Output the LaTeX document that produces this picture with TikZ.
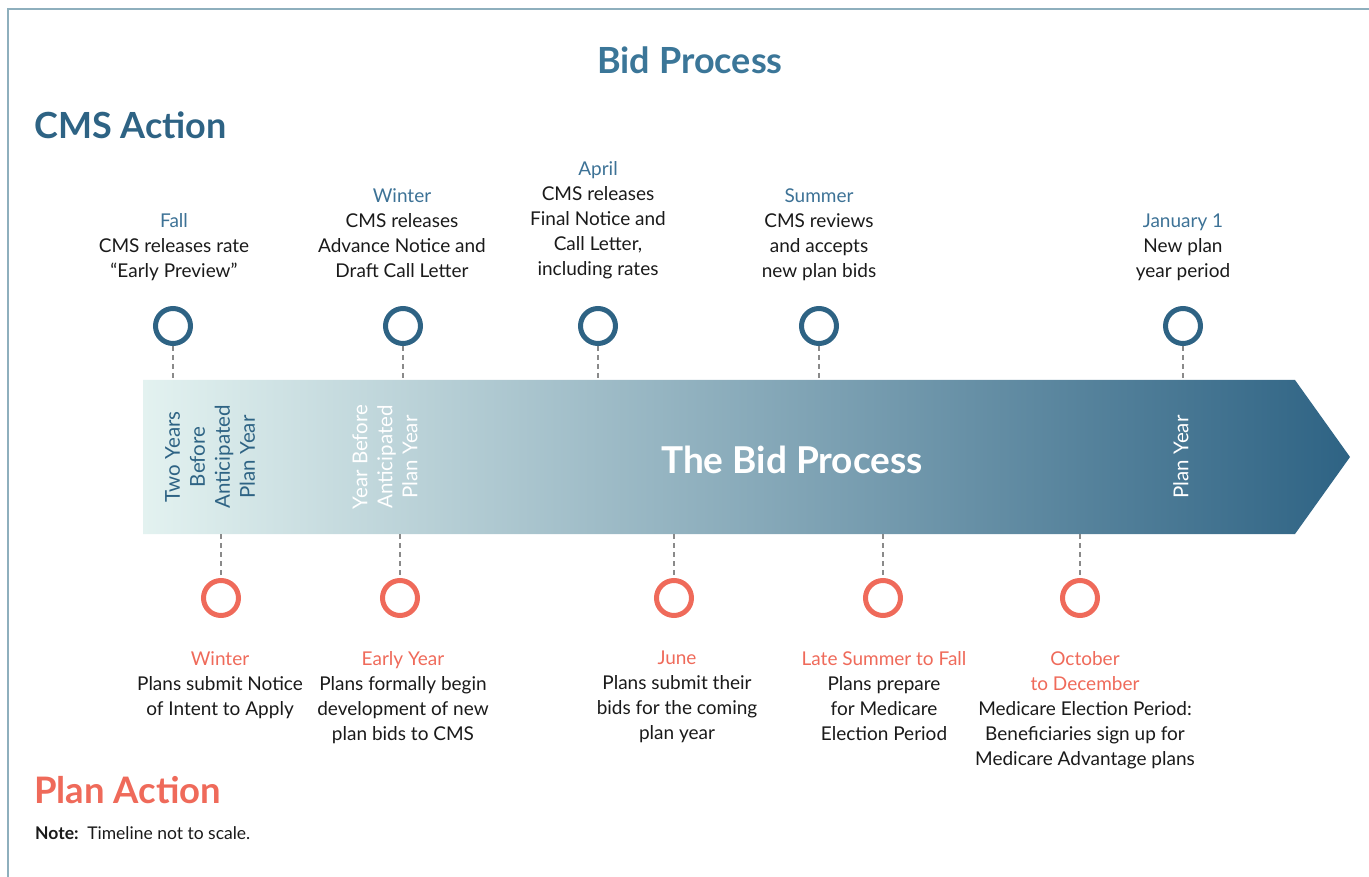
\documentclass[tikz,border=0pt]{standalone}
\usepackage{fontspec}
\setmainfont{Lato}
\definecolor{cmsblue}{HTML}{2E6384}
\definecolor{monthblue}{HTML}{3D7296}
\definecolor{titleblue}{HTML}{3B7698}
\definecolor{planred}{HTML}{EF6A5A}
\definecolor{bodyblack}{HTML}{1A1A1A}
\definecolor{ticks}{HTML}{8A8A8A}
\definecolor{framecol}{HTML}{8EAFBD}
\definecolor{arrowlight}{HTML}{E3F2F0}
\definecolor{arrowmid}{HTML}{80A1B6}
\newcommand{\bodyfont}{\fontsize{19}{25}\selectfont}
\newcommand{\cmsmonth}[1]{\textcolor{monthblue}{#1}}
\newcommand{\planmonth}[1]{\textcolor{planred}{#1}}

\begin{document}
\begin{tikzpicture}[x=1pt, y=-1pt, every node/.style={inner sep=0pt, text=bodyblack},
    cmsdot/.style={circle, draw=cmsblue, line width=5pt, minimum size=35pt, fill=white},
    plandot/.style={circle, draw=planred, line width=5pt, minimum size=35pt, fill=white},
    tick/.style={draw=ticks, line width=1.2pt, dash pattern=on 5pt off 4pt},
    cmstext/.style={anchor=south, align=center, text depth=0pt, font=\bodyfont},
    plantext/.style={anchor=north, align=center, font=\bodyfont},
    yeartext/.style={rotate=90, align=center, font=\fontsize{20.5}{25}\selectfont}]
	\useasboundingbox (0,0) rectangle (1369,877);
	\draw[framecol, line width=1.2pt] (8,877) -- (8,9) -- (1369,9);
	
	\shade[left color=arrowlight, middle color=arrowmid, right color=cmsblue]
		(143,380) -- (1295,380) -- (1350,457) -- (1295,534) -- (143,534) -- cycle;
	
	\node[text=titleblue, font=\fontsize{36}{40}\selectfont\bfseries] (title) at (690,60) {Bid Process};
	\node[anchor=west, text=cmsblue, font=\fontsize{36}{40}\selectfont\bfseries] (cms) at (34,125) {CMS Action};
	\node[anchor=west, text=planred, font=\fontsize{36.5}{40}\selectfont\bfseries] (plan) at (34,790) {Plan Action};
	\node[anchor=base west, font=\fontsize{17.5}{20}\selectfont] (note) at (35,839) {\textbf{Note:}\enspace Timeline not to scale.};
	
	\node[text=white, font=\fontsize{37}{40}\selectfont\bfseries] (bid) at (792,460) {The Bid Process};
	\node[yeartext, text=cmsblue] (y2) at (210,457) {Two Years\\Before\\Anticipated\\Plan Year};
	\node[yeartext, text=white] (y1) at (385,457) {Year Before\\Anticipated\\Plan Year};
	\node[yeartext, text=white] (y0) at (1181,457) {Plan Year};
	
	\node[cmsdot] (c1) at (173,326) {};
	\node[cmsdot] (c2) at (403,326) {};
	\node[cmsdot] (c3) at (598,326) {};
	\node[cmsdot] (c4) at (819,326) {};
	\node[cmsdot] (c5) at (1183,326) {};
	\coordinate (t1) at (173,380);
	\coordinate (t2) at (403,380);
	\coordinate (t3) at (598,380);
	\coordinate (t4) at (819,380);
	\coordinate (t5) at (1183,380);
	
	\node[plandot] (p1) at (221,598) {};
	\node[plandot] (p2) at (400,598) {};
	\node[plandot] (p3) at (674,598) {};
	\node[plandot] (p4) at (883,598) {};
	\node[plandot] (p5) at (1080,598) {};
	\coordinate (b1) at (221,534);
	\coordinate (b2) at (400,534);
	\coordinate (b3) at (674,534);
	\coordinate (b4) at (883,534);
	\coordinate (b5) at (1080,534);
	
	\path (c1) edge[tick] (t1);
	\path (c2) edge[tick] (t2);
	\path (c3) edge[tick] (t3);
	\path (c4) edge[tick] (t4);
	\path (c5) edge[tick] (t5);
	\path (b1) edge[tick] (p1);
	\path (b2) edge[tick] (p2);
	\path (b3) edge[tick] (p3);
	\path (b4) edge[tick] (p4);
	\path (b5) edge[tick] (p5);
	
	\node[cmstext] (fall) at (174,278) {\cmsmonth{Fall}\\CMS releases rate\\“Early Preview”};
	\node[cmstext] (winter) at (402,278) {\cmsmonth{Winter}\\CMS releases\\Advance Notice and\\Draft Call Letter};
	\node[cmstext] (april) at (598,276) {\cmsmonth{April}\\CMS releases\\Final Notice and\\Call Letter,\\including rates};
	\node[cmstext] (summer) at (819,278) {\cmsmonth{Summer}\\CMS reviews\\and accepts\\new plan bids};
	\node[cmstext] (jan) at (1183,278) {\cmsmonth{January 1}\\New plan\\year period};
	
	\node[plantext] (pwinter) at (220,651) {\planmonth{Winter}\\Plans submit Notice\\of Intent to Apply};
	\node[plantext] (early) at (403,651) {\planmonth{Early Year}\\Plans formally begin\\development of new\\plan bids to CMS};
	\node[plantext] (june) at (677,651) {\planmonth{June}\\Plans submit their\\bids for the coming\\plan year};
	\node[plantext] (late) at (884,651) {\planmonth{Late Summer to Fall}\\Plans prepare\\for Medicare\\Election Period};
	\node[plantext] (oct) at (1085,651) {\planmonth{October}\\\planmonth{to December}\\Medicare Election Period:\\Beneficiaries sign up for\\Medicare Advantage plans};
\end{tikzpicture}
\end{document}
